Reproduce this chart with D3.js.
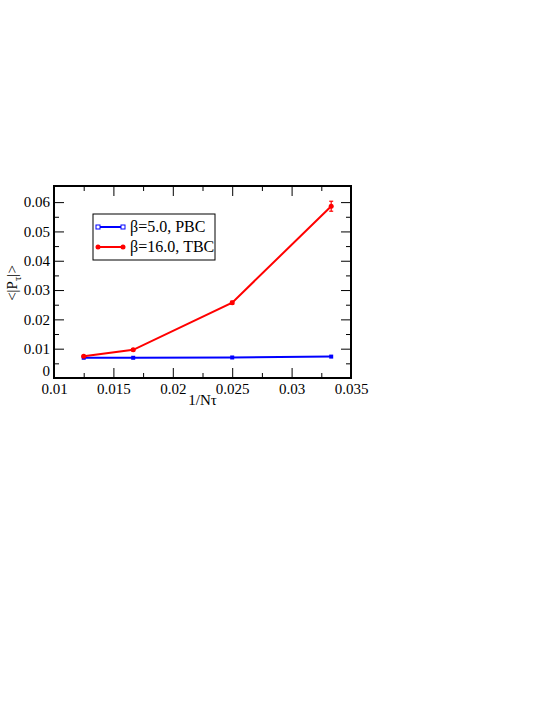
<!DOCTYPE html>
<html>
<head>
<meta charset="utf-8">
<script src="https://cdn.jsdelivr.net/npm/d3@7"></script>
<style>
  body { margin: 0; background: #fff; }
</style>
</head>
<body>
<svg id="chart" width="545" height="705"></svg>
<script>
// data
const invNtau = [1 / 80, 1 / 60, 1 / 40, 1 / 30];
const pbcValues = [0.0069, 0.0069, 0.0070, 0.0073];
const tbcValues = [0.0074, 0.0096, 0.0257, 0.0586];
const tbcErrors = [0.0003, 0.0003, 0.0005, 0.0017];
const xTicks = [0.01, 0.015, 0.02, 0.025, 0.03, 0.035];
const yTicks = [0, 0.01, 0.02, 0.03, 0.04, 0.05, 0.06];
const seriesNames = ["\u03b2=5.0, PBC", "\u03b2=16.0, TBC"];

const serif = "'Liberation Serif', 'Times New Roman', Times, serif";

const svg = d3.select("#chart").style("font-family", serif);
const margin = {left: 54, top: 186, right: 194, bottom: 327};
const width = 545 - margin.left - margin.right;
const height = 705 - margin.top - margin.bottom;

const x = d3.scaleLinear().domain([0.01, 0.035]).range([0, width]);
const y = d3.scaleLinear().domain([0, 0.0655]).range([height, 0]);

const g = svg.append("g")
    .attr("transform", "translate(" + margin.left + "," + margin.top + ")");

// minor ticks
const xMinor = d3.range(0.0125, 0.035, 0.005);
const yMinor = d3.range(0.005, 0.065, 0.01);

function tickAxis(axisFn, scale, ticks, len, fmt) {
    return axisFn(scale).tickValues(ticks).tickSizeInner(-len).tickSizeOuter(0)
        .tickPadding(len + 3).tickFormat(fmt);
}

const fmtX = d => d3.format("")(+d.toFixed(3));
const fmtY = d => d === 0 ? "0" : d.toFixed(2);

function styleAxis(sel) {
    sel.attr("font-family", null).attr("font-size", null);
    sel.select(".domain").remove();
    sel.selectAll("line").attr("stroke", "#000").attr("stroke-width", 1);
    sel.selectAll("text").attr("fill", "#000")
        .style("font-family", serif).style("font-size", "15px");
}

// bottom
g.append("g").attr("transform", "translate(0," + height + ")")
    .call(tickAxis(d3.axisBottom, x, xTicks, 10, fmtX))
    .call(styleAxis)
    .call(s => s.selectAll("text").attr("y", 5).attr("dy", "0.71em"));
g.append("g").attr("transform", "translate(0," + height + ")")
    .call(tickAxis(d3.axisBottom, x, xMinor, 5, "")).call(styleAxis);
// top
g.append("g").call(tickAxis(d3.axisTop, x, xTicks, 10, "")).call(styleAxis);
g.append("g").call(tickAxis(d3.axisTop, x, xMinor, 5, "")).call(styleAxis);
// left
g.append("g").call(tickAxis(d3.axisLeft, y, yTicks, 10, fmtY))
    .call(styleAxis)
    .call(s => s.selectAll("text").attr("x", -4)
        .attr("dy", d => d === 0 ? "-0.2em" : "0.32em"));
g.append("g").call(tickAxis(d3.axisLeft, y, yMinor, 5, "")).call(styleAxis);
// right
g.append("g").attr("transform", "translate(" + width + ",0)")
    .call(tickAxis(d3.axisRight, y, yTicks, 10, "")).call(styleAxis);
g.append("g").attr("transform", "translate(" + width + ",0)")
    .call(tickAxis(d3.axisRight, y, yMinor, 5, "")).call(styleAxis);

// frame
g.append("rect").attr("width", width).attr("height", height)
    .attr("fill", "none").attr("stroke", "#000").attr("stroke-width", 2);

const line = d3.line().x(d => x(d[0])).y(d => y(d[1]));
const pbc = invNtau.map((v, i) => [v, pbcValues[i]]);
const tbc = invNtau.map((v, i) => [v, tbcValues[i], tbcErrors[i]]);

// PBC series
g.append("path").datum(pbc).attr("d", line)
    .attr("fill", "none").attr("stroke", "#0000ff").attr("stroke-width", 2);
g.selectAll(".sq").data(pbc).join("rect").attr("class", "sq")
    .attr("x", d => x(d[0]) - 2).attr("y", d => y(d[1]) - 2)
    .attr("width", 4).attr("height", 4).attr("fill", "#0000ff");

// TBC series with error bars
const eb = g.selectAll(".eb").data(tbc).join("g").attr("class", "eb")
    .attr("stroke", "#ff0000").attr("stroke-width", 1.2);
eb.append("line").attr("x1", d => x(d[0])).attr("x2", d => x(d[0]))
    .attr("y1", d => y(d[1] - d[2])).attr("y2", d => y(d[1] + d[2]));
eb.append("line").attr("x1", d => x(d[0]) - 2).attr("x2", d => x(d[0]) + 2)
    .attr("y1", d => y(d[1] - d[2])).attr("y2", d => y(d[1] - d[2]));
eb.append("line").attr("x1", d => x(d[0]) - 2).attr("x2", d => x(d[0]) + 2)
    .attr("y1", d => y(d[1] + d[2])).attr("y2", d => y(d[1] + d[2]));
g.append("path").datum(tbc).attr("d", line)
    .attr("fill", "none").attr("stroke", "#ff0000").attr("stroke-width", 2);
g.selectAll(".ci").data(tbc).join("circle").attr("class", "ci")
    .attr("cx", d => x(d[0])).attr("cy", d => y(d[1])).attr("r", 2.5)
    .attr("fill", "#ff0000");

// legend
const legend = g.append("g").attr("transform", "translate(39,28)");
legend.append("rect").attr("width", 122).attr("height", 46)
    .attr("fill", "#fff").attr("stroke", "#000").attr("stroke-width", 1);
const colors = ["#0000ff", "#ff0000"];
seriesNames.forEach((name, i) => {
    const ly = 13 + i * 20;
    legend.append("line").attr("x1", 5).attr("x2", 30).attr("y1", ly).attr("y2", ly)
        .attr("stroke", colors[i]).attr("stroke-width", 2);
    [5, 30].forEach(px => {
        if (i === 0) {
            legend.append("rect").attr("x", px - 2).attr("y", ly - 2)
                .attr("width", 4).attr("height", 4).attr("fill", "#fff")
                .attr("stroke", colors[i]).attr("stroke-width", 1);
        } else {
            legend.append("circle").attr("cx", px).attr("cy", ly).attr("r", 2.5)
                .attr("fill", colors[i]);
        }
    });
    legend.append("text").attr("x", 37).attr("y", ly + 5)
        .style("font-family", serif).style("font-size", "16px").text(name);
});

// axis titles
g.append("text").attr("x", width / 2).attr("y", height + 27)
    .attr("text-anchor", "middle").style("font-family", serif)
    .style("font-size", "15px").text("1/N\u03c4");
const yl = svg.append("text")
    .attr("transform", "translate(17," + (margin.top + 97) + ") rotate(-90)")
    .attr("text-anchor", "middle").style("font-family", serif).style("font-size", "15px");
yl.append("tspan").text("<|P");
yl.append("tspan").attr("dy", 4).style("font-size", "11px").text("\u03c4");
yl.append("tspan").attr("dy", -4).text("|>");
</script>
</body>
</html>
